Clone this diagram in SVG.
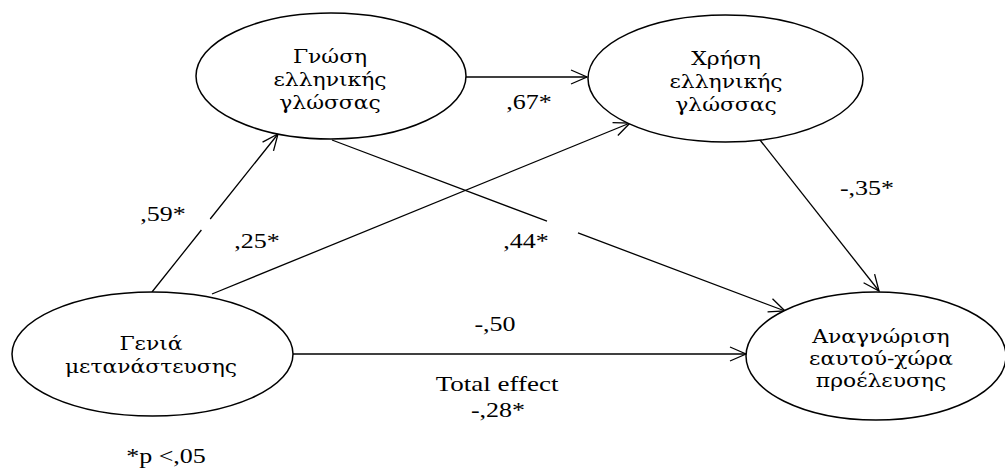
<svg xmlns="http://www.w3.org/2000/svg" width="1005" height="469" viewBox="0 0 1005 469">
<style>
.node{fill:#fff;stroke:#000;stroke-width:1.5}
.edge{fill:none;stroke:#000;stroke-width:1.3}
text{font-family:"Liberation Serif","DejaVu Serif","Times New Roman",serif;font-size:20px;fill:#000;text-anchor:middle}
text.gr{font-family:"DejaVu Serif","Liberation Serif",serif;font-size:19px}
</style>
<defs>
<marker id="arr" markerUnits="userSpaceOnUse" markerWidth="20" markerHeight="18" viewBox="-18 -9 20 18" refX="0" refY="0" orient="auto">
<path d="M-16,-7 L0,0 L-16,7" fill="none" stroke="#000" stroke-width="1.3"/>
</marker>
</defs>
<rect width="1005" height="469" fill="#fff"/>
<g id="connectors">
<path class="edge" d="M152,292 L201.4,230 M210.2,219 L278,134" marker-end="url(#arr)"/>
<path class="edge" d="M212,294 L630,123" marker-end="url(#arr)"/>
<path class="edge" d="M332,140 L547,221.2 M578,232.9 L785,311" marker-end="url(#arr)"/>
<path class="edge" d="M466,77 L587,77" marker-end="url(#arr)"/>
<path class="edge" d="M760,140 L879,291" marker-end="url(#arr)"/>
<path class="edge" d="M293,354 L746,354" marker-end="url(#arr)"/>
</g>
<g id="node-gnosi">
<ellipse class="node" cx="331" cy="76" rx="135" ry="63"/>
<text class="gr" transform="translate(330,63) scale(1.15,1)">Γνώση</text>
<text class="gr" transform="translate(330,86) scale(1.15,1)">ελληνικής</text>
<text class="gr" transform="translate(330,109) scale(1.15,1)">γλώσσας</text>
</g>
<g id="node-xrisi">
<ellipse class="node" cx="725.5" cy="78.5" rx="137.5" ry="63.5"/>
<text class="gr" transform="translate(726,65) scale(1.15,1)">Χρήση</text>
<text class="gr" transform="translate(726,88) scale(1.15,1)">ελληνικής</text>
<text class="gr" transform="translate(726,111) scale(1.15,1)">γλώσσας</text>
</g>
<g id="node-genia">
<ellipse class="node" cx="152.5" cy="354" rx="140.5" ry="62"/>
<text class="gr" transform="translate(151,350) scale(1.15,1)">Γενιά</text>
<text class="gr" transform="translate(151,373) scale(1.15,1)">μετανάστευσης</text>
</g>
<g id="node-anagnorisi">
<ellipse class="node" cx="876" cy="356" rx="130" ry="64"/>
<text class="gr" transform="translate(881,343) scale(1.15,1)">Αναγνώριση</text>
<text class="gr" transform="translate(881,365) scale(1.15,1)">εαυτού-χώρα</text>
<text class="gr" transform="translate(881,387) scale(1.15,1)">προέλευσης</text>
</g>
<g id="labels">
<text transform="translate(163,221) scale(1.3,1)">,59*</text>
<text transform="translate(257,248) scale(1.3,1)">,25*</text>
<text transform="translate(526,248) scale(1.3,1)">,44*</text>
<text transform="translate(529,109) scale(1.3,1)">,67*</text>
<text transform="translate(867,195) scale(1.3,1)">-,35*</text>
<text transform="translate(495,331) scale(1.3,1)">-,50</text>
<text transform="translate(497,391) scale(1.35,1)">Total effect</text>
<text transform="translate(498,417) scale(1.3,1)">-,28*</text>
<text transform="translate(166,463) scale(1.3,1)">*p &lt;,05</text>
</g>
</svg>
